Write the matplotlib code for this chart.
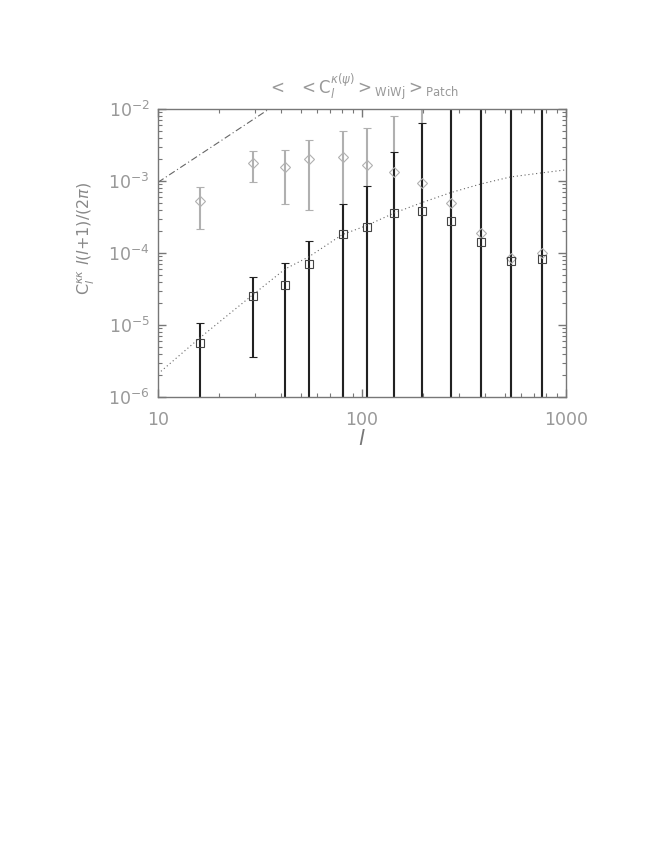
import numpy as np
import matplotlib
matplotlib.use("Agg")
import matplotlib.pyplot as plt

#multipole bins
ell = [16.1, 29.1, 42.0, 54.8, 80.3, 105.4, 144.0, 196.0, 272.0, 382.0, 535.0, 762.0]

#grey diamonds (patch-averaged), value and error bar ends
dia_val = [5.2e-4, 1.80e-3, 1.58e-3, 2.04e-3, 2.16e-3, 1.67e-3, 1.35e-3, 9.5e-4, 4.9e-4, 1.9e-4, 8.6e-5, 9.9e-5]
dia_lo = [2.15e-4, 9.7e-4, 4.85e-4, 3.95e-4, 1e-7, 1e-7, 1e-7, 1e-7, 1e-7, 1e-7, 1e-7, 1e-7]
dia_hi = [8.2e-4, 2.63e-3, 2.7e-3, 3.7e-3, 4.9e-3, 5.4e-3, 8.1e-3, 1e-1, 1e-1, 1e-1, 1e-1, 1e-1]

#black squares, value and error bar ends
sq_val = [5.7e-6, 2.55e-5, 3.6e-5, 7.1e-5, 1.84e-4, 2.32e-4, 3.56e-4, 3.87e-4, 2.78e-4, 1.44e-4, 7.7e-5, 8.2e-5]
sq_lo = [1e-7, 3.6e-6, 1e-7, 1e-7, 1e-7, 1e-7, 1e-7, 1e-7, 1e-7, 1e-7, 1e-7, 1e-7]
sq_hi = [1.07e-5, 4.7e-5, 7.2e-5, 1.48e-4, 4.74e-4, 8.6e-4, 2.55e-3, 6.4e-3, 1e-1, 1e-1, 1e-1, 1e-1]

#theory curve (dotted)
th_l = [10, 16, 29, 42, 55, 80, 105, 144, 196, 272, 382, 535, 762, 1000]
th_c = [2.1e-6, 6.6e-6, 2.6e-5, 6.0e-5, 8.9e-5, 1.8e-4, 2.4e-4, 3.6e-4, 5.0e-4, 6.9e-4, 9.1e-4, 1.14e-3, 1.30e-3, 1.43e-3]

#dash-dot line
dd_l = [10, 35]
dd_c = [9.6e-4, 1.0e-2]

txt = "#999999"
plt.rcParams["font.family"] = "DejaVu Sans"
plt.rcParams["mathtext.fontset"] = "dejavusans"

fig = plt.figure(figsize=(6.54, 8.46), dpi=100)
ax = fig.add_axes([0.2416, 0.5307, 0.6238, 0.3404])

lo = np.array(dia_val) - np.array(dia_lo)
hi = np.array(dia_hi) - np.array(dia_val)
ax.errorbar(ell, dia_val, yerr=[lo, hi], fmt="D", ms=5, mfc="none", mec="#b0b0b0",
            mew=0.8, ecolor="#b0b0b0", elinewidth=1.5, capsize=3, capthick=1.2)

lo = np.array(sq_val) - np.array(sq_lo)
hi = np.array(sq_hi) - np.array(sq_val)
ax.errorbar(ell, sq_val, yerr=[lo, hi], fmt="s", ms=5.5, mfc="none", mec="#444444",
            mew=0.8, ecolor="#222222", elinewidth=1.5, capsize=3, capthick=1.5)

ax.plot(th_l, th_c, ls=(0, (1, 2.5)), color="#666666", lw=0.8)
ax.plot(dd_l, dd_c, ls=(0, (6, 2.5, 1, 2.5)), color="#666666", lw=0.8)

ax.set_xscale("log")
ax.set_yscale("log")
ax.set_xlim(10, 1000)
ax.set_ylim(1e-6, 1e-2)

for s in ax.spines.values():
    s.set_color("#777777")
    s.set_linewidth(1.0)
ax.tick_params(which="both", direction="in", top=True, right=True, colors="#777777",
               labelcolor=txt, labelsize=12.5)
ax.tick_params(which="major", length=6, width=1.0, pad=10)
ax.tick_params(which="minor", length=3, width=0.8)
ax.tick_params(axis="y", which="major", pad=6)
ax.set_xticks([10, 100, 1000])
ax.set_xticklabels(["10", "100", "1000"])
ax.set_yticks([1e-6, 1e-5, 1e-4, 1e-3, 1e-2])
ax.set_yticklabels([r"$10^{-6}$", r"$10^{-5}$", r"$10^{-4}$", r"$10^{-3}$", r"$10^{-2}$"])

ax.set_xlabel(r"$\it{l}$", fontsize=15, color="#777777", labelpad=0)
ax.set_ylabel(r"C$_{\it{l}}^{\kappa\kappa}$ $\it{l}(\it{l}$+1)/(2$\pi$)", fontsize=11.5,
              color="#888888", labelpad=2)
ax.yaxis.set_label_coords(-0.15, 0.55)
fig.text(0.555, 0.878,
         r"$<$  $<$C$_{\it{l}}^{\kappa(\psi)}$$>_{\rm WiWj}$$>_{\rm Patch}$",
         ha="center", va="bottom", fontsize=12, color=txt)

fig.savefig("out.png", dpi=100)
